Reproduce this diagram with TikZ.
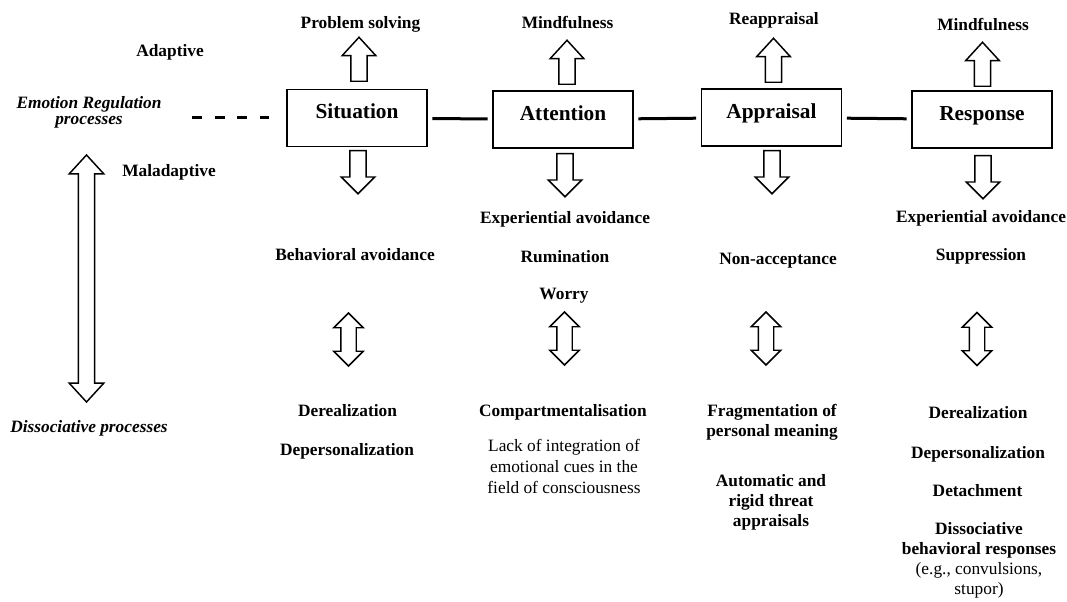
\documentclass[tikz,border=0pt]{standalone}
\usepackage{fontspec}
\setmainfont{Liberation Serif}
\usetikzlibrary{shapes.arrows}
\tikzset{
  erbox/.style={rectangle, draw, line width=1.1pt, inner sep=0pt,
                minimum width=105pt, minimum height=42.75pt,
                text height=22.1pt, text depth=20.6pt,
                font=\fontsize{16}{19}\selectfont\bfseries},
  erlabel/.style={anchor=base, inner sep=0pt, align=center,
                  font=\fontsize{13}{15}\selectfont\bfseries},
  ersidelabel/.style={erlabel, font=\fontsize{13}{12}\selectfont\bfseries\itshape},
  ernote/.style={erlabel, font=\fontsize{13}{15.75}\selectfont},
  erup/.style={single arrow, draw, line width=1.1pt, inner sep=5.6pt,
               shape border rotate=90, anchor=tail, minimum height=33pt,
               minimum width=24pt, single arrow head extend=6.4pt,
               single arrow tip angle=85},
  erdown/.style={erup, shape border rotate=270, minimum height=32.25pt,
                 minimum width=24.75pt, single arrow tip angle=90},
  ertwoway/.style={double arrow, draw, line width=1.1pt, inner sep=5.25pt,
                   shape border rotate=90, minimum height=39.75pt,
                   minimum width=21pt, double arrow head extend=5.25pt,
                   double arrow tip angle=90},
  erlink/.style={draw, line width=2.25pt, shorten <=3.5pt, shorten >=3.5pt},
  erdashed/.style={draw, line width=2.25pt, dash pattern=on 7.5pt off 9.5pt}
}
\begin{document}
\begin{tikzpicture}[x=0.75pt, y=-0.75pt]
  \useasboundingbox (0,0) rectangle (1067,602);
  % the four stages
  \node[erbox] (sit) at (357, 118)     {Situation};
  \node[erbox] (att) at (563, 119.5)   {Attention};
  \node[erbox] (app) at (771.5, 117.5) {Appraisal};
  \node[erbox] (res) at (982, 119.5)   {Response};
  \coordinate (erstart) at (192, 118);
  \draw[erdashed, shorten >=12.75pt] (erstart) -- (sit.west);
  \foreach \from/\to in {sit/att, att/app, app/res} {
    \draw[erlink] (\from) -- (\to);
  }
  % adaptive above, maladaptive below, dissociative further down
  \foreach \name/\x/\y in {sit/359/82, att/567/85, app/773.5/83, res/982.5/87} {
    \node[erup] (up\name) at (\x, \y) {};
  }
  \foreach \name/\x/\y in {sit/358/150, att/565/153, app/772/150, res/983/155} {
    \node[erdown] (down\name) at (\x, \y) {};
  }
  \foreach \name/\x/\y in {sit/348.5/339.5, att/564.5/338.5, app/766/338.5, res/977/339} {
    \node[ertwoway] (link\name) at (\x, \y) {};
  }
  \node[ertwoway, inner sep=5.6pt, minimum height=185.25pt, minimum width=24.75pt,
        double arrow head extend=6.75pt, double arrow tip angle=85]
    (erscale) at (86.5, 278.5) {};
  % left side
  \node[erlabel] (adaptive) at (170, 57) {Adaptive};
  \node[ersidelabel] (erproc) at (89, 124.5) {Emotion Regulation\\processes};
  \node[erlabel] (maladaptive) at (169, 177) {Maladaptive};
  \node[ersidelabel] (dissproc) at (89, 432) {Dissociative processes};
  % top row
  \node[erlabel] (solving) at (360.5, 29) {Problem solving};
  \node[erlabel] (mindatt) at (567.5, 29) {Mindfulness};
  \node[erlabel] (reapp) at (774, 25) {Reappraisal};
  \node[erlabel] (mindres) at (983, 31) {Mindfulness};
  % Situation
  \node[erlabel] (behav) at (355, 261) {Behavioral avoidance};
  \node[erlabel] (dersit) at (347.5, 416) {Derealization};
  \node[erlabel] (depsit) at (347, 455) {Depersonalization};
  % Attention
  \node[erlabel] (expatt) at (565, 224) {Experiential avoidance};
  \node[erlabel] (rumin) at (565, 263) {Rumination};
  \node[erlabel] (worry) at (564, 300) {Worry};
  \node[erlabel] (compart) at (563, 416) {Compartmentalisation};
  \node[ernote] (lackint) at (564, 493)
    {Lack of integration of\\emotional cues in the\\field of consciousness};
  % Appraisal
  \node[erlabel] (nonacc) at (778, 264.5) {Non-acceptance};
  \node[erlabel] (fragm) at (772, 436.5) {Fragmentation of\\personal meaning};
  \node[erlabel] (rigid) at (771, 526.5) {Automatic and\\rigid threat\\appraisals};
  % Response
  \node[erlabel] (expres) at (981, 223) {Experiential avoidance};
  \node[erlabel] (suppr) at (981, 261) {Suppression};
  \node[erlabel] (derres) at (978, 418) {Derealization};
  \node[erlabel] (depres) at (978, 458) {Depersonalization};
  \node[erlabel] (detach) at (977.5, 496.5) {Detachment};
  \node[erlabel] (dissres) at (979, 594)
    {Dissociative\\behavioral responses\\\mdseries (e.g., convulsions,\\\mdseries stupor)};
\end{tikzpicture}
\end{document}
